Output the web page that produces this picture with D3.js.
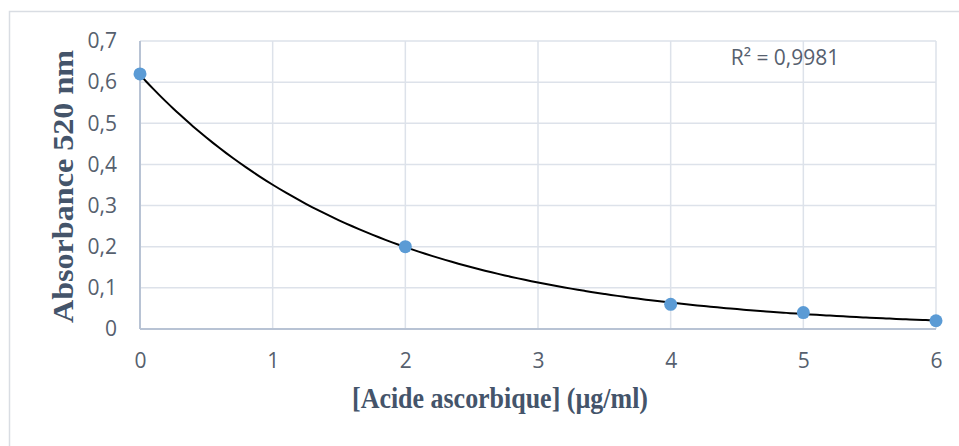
<!DOCTYPE html>
<html>
<head>
<meta charset="utf-8">
<script src="https://cdn.jsdelivr.net/npm/d3@7"></script>
<style>
  body { margin: 0; background: #fff; }
  svg { display: block; }
</style>
</head>
<body>
<div id="chart"></div>
<script>
// data
var concentrations = [0, 2, 4, 5, 6];
var absorbances = [0.62, 0.20, 0.06, 0.04, 0.02];
var xTicks = [0, 1, 2, 3, 4, 5, 6];
var yTicks = [0, 0.1, 0.2, 0.3, 0.4, 0.5, 0.6, 0.7];
var r2Label = "R² = 0,9981";
var xTitle = "[Acide ascorbique] (µg/ml)";
var yTitle = "Absorbance 520 nm";

var W = 959, H = 446;
var plot = {left: 140, top: 41, right: 936, bottom: 329};

var data = concentrations.map(function(c, i){ return {x: c, y: absorbances[i]}; });

var xScale = d3.scaleLinear().domain([0, 6]).range([plot.left, plot.right]);
var yScale = d3.scaleLinear().domain([0, 0.7]).range([plot.bottom, plot.top]);

// exponential trend line y = a*exp(b*x), fitted like Excel (least squares on ln y)
var mx = d3.mean(data, d => d.x);
var my = d3.mean(data, d => Math.log(d.y));
var sxy = d3.sum(data, d => (d.x - mx) * (Math.log(d.y) - my));
var sxx = d3.sum(data, d => (d.x - mx) * (d.x - mx));
var b = sxy / sxx;
var a = Math.exp(my - b * mx);
var trend = d3.range(0, 6.0001, 0.05).map(x => ({x: x, y: a * Math.exp(b * x)}));

var svg = d3.select("#chart").append("svg")
    .attr("width", W).attr("height", H);

// chart frame
svg.append("rect")
    .attr("x", 9.5).attr("y", 11.5)
    .attr("width", W).attr("height", H)
    .attr("fill", "none")
    .attr("stroke", "#d9dde3")
    .attr("stroke-width", 1.5);

var grid = svg.append("g").attr("class", "grid");
grid.selectAll("line.h").data(yTicks.slice(1)).enter().append("line")
    .attr("class", "h")
    .attr("x1", plot.left).attr("x2", plot.right)
    .attr("y1", d => yScale(d)).attr("y2", d => yScale(d))
    .attr("stroke", "#dde2ea").attr("stroke-width", 1.5);
grid.selectAll("line.v").data(xTicks.slice(1)).enter().append("line")
    .attr("class", "v")
    .attr("x1", d => xScale(d)).attr("x2", d => xScale(d))
    .attr("y1", plot.top).attr("y2", plot.bottom)
    .attr("stroke", "#dde2ea").attr("stroke-width", 1.5);

var fmt = d => d3.format(".1~f")(d).replace(".", ",");

var xAxis = d3.axisBottom(xScale).tickValues(xTicks).tickSize(0).tickPadding(24).tickFormat(d3.format("d"));
var yAxis = d3.axisLeft(yScale).tickValues(yTicks).tickSize(0).tickPadding(23).tickFormat(fmt);

var gx = svg.append("g").attr("transform", "translate(0," + plot.bottom + ")").call(xAxis);
var gy = svg.append("g").attr("transform", "translate(" + plot.left + ",0)").call(yAxis);

[gx, gy].forEach(function(g){
    g.attr("font-size", null).attr("font-family", null);
    g.select(".domain").attr("stroke", "#b8c3d4").attr("stroke-width", 2);
    g.selectAll(".tick text")
        .attr("fill", "#56606e")
        .style("font-family", "'Open Sans', sans-serif")
        .style("font-size", "21px");
});
gx.select(".domain").attr("d", "M" + plot.left + ",0H" + plot.right);
gy.select(".domain").attr("d", "M0," + plot.top + "V" + plot.bottom);

// trend line
var line = d3.line().x(d => xScale(d.x)).y(d => yScale(d.y)).curve(d3.curveMonotoneX);
svg.append("path")
    .datum(trend)
    .attr("d", line)
    .attr("fill", "none")
    .attr("stroke", "#000")
    .attr("stroke-width", 2);

// points
svg.selectAll("circle.dot").data(data).enter().append("circle")
    .attr("class", "dot")
    .attr("cx", d => xScale(d.x))
    .attr("cy", d => yScale(d.y))
    .attr("r", 6.5)
    .attr("fill", "#5b9bd5");

svg.append("text")
    .attr("x", 785).attr("y", 65)
    .attr("text-anchor", "middle")
    .attr("fill", "#56606e")
    .style("font-family", "'Open Sans', sans-serif")
    .style("font-size", "21px")
    .text(r2Label);

// axis titles
svg.append("text")
    .attr("x", 352).attr("y", 408)
    .attr("textLength", 296)
    .attr("lengthAdjust", "spacingAndGlyphs")
    .attr("fill", "#44546a")
    .style("font-family", "'Liberation Serif', 'Times New Roman', serif")
    .style("font-weight", "bold")
    .style("font-size", "30px")
    .text(xTitle);

svg.append("text")
    .attr("transform", "translate(73,323) rotate(-90)")
    .attr("textLength", 273)
    .attr("lengthAdjust", "spacingAndGlyphs")
    .attr("fill", "#44546a")
    .style("font-family", "'Liberation Serif', 'Times New Roman', serif")
    .style("font-weight", "bold")
    .style("font-size", "30px")
    .text(yTitle);
</script>
</body>
</html>
